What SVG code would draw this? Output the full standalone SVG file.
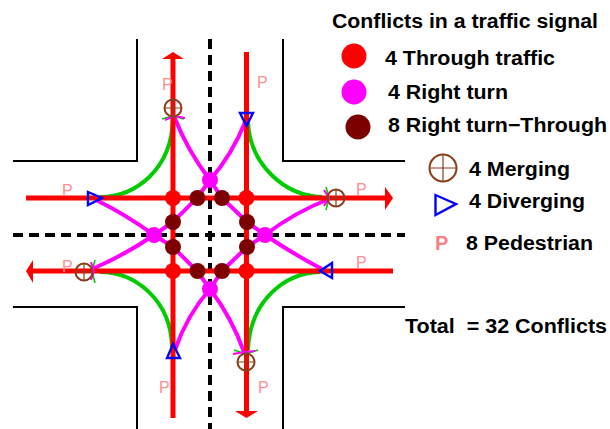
<svg xmlns="http://www.w3.org/2000/svg" width="610" height="429" viewBox="0 0 610 429">
<style>
.curb{fill:none;stroke:#000;stroke-width:2}
.lane{fill:none;stroke:#000;stroke-width:4;stroke-dasharray:10 6}
.road{fill:none;stroke:#f00;stroke-width:5}
.head{fill:#f00}
.turn{fill:none;stroke:#0c0;stroke-width:4}
.mag{fill:none;stroke:#f0f;stroke-width:4}
.tipg{fill:none;stroke:#0c0;stroke-width:1.6}
.tipm{fill:none;stroke:#f0f;stroke-width:2}
.red{fill:#f00}.pink{fill:#f0f}.dark{fill:#7d0000}
.merge{fill:none;stroke:#8b3e1a;stroke-width:2}
.cross{fill:none;stroke:#8b3e1a;stroke-width:1.2}
.div{fill:none;stroke:#00f;stroke-width:2.4}
.p{font-family:"Liberation Sans",Arial,sans-serif;font-size:16px;fill:#ff9090}
.lp{font-family:"Liberation Sans",Arial,sans-serif;font-size:20px;font-weight:bold;fill:#ff8080}
.t{font-family:"Liberation Sans",Arial,sans-serif;font-size:20px;font-weight:bold;fill:#000}
</style>
<g id="connectors">
<path class="curb" d="M137 39V161H13M283 39V161H405M13 307H137V429M405 307H283V429"/>
<path class="lane" d="M13 235H405M210 39V429"/>
<path class="turn" d="M173 118C172 170 135 197 100 197M248 122C250 165 285 196 322 197M100 272C135 272 171 300 172 347M320 272C285 273 250 300 248 350"/>
<path class="mag" d="M174 116Q187 150 210 180M246 120Q232 155 210 180M96 200Q125 214 154 235M92 269Q125 255 154 235M329 199Q295 212 265 235M322 269Q295 255 265 235M175 350Q187 315 210 289M244 352Q232 318 210 289"/>
<path class="mag" d="M210 180L197 198L173 222L154 235L173 247L197 271L210 289L222 271L247 247L265 235L247 222L222 198Z"/>
<path class="road" d="M173 57V418M246.5 52V412M26 198H386M32 271H393"/>
<polygon class="head" points="173,52 184,59 162,59"/>
<polygon class="head" points="393,198 385,187 385,210"/>
<polygon class="head" points="26,271 33,260 33,283"/>
<polygon class="head" points="246.5,418 235,411 258,411"/>
<path class="tipg" d="M162 119L173 116L184 119M326 187L329 198L326 210M95 260L92 271L95 283M234 350L246 354L258 350"/>
<path class="tipm" d="M165 120L174 116L185 118M324 190L329 198L324 206M91 262L94 271L91 280M233 354L245 352L255 351"/>
</g>
<g id="through-conflicts">
<circle class="red" cx="173" cy="198" r="8"/><circle class="red" cx="246.5" cy="198" r="8"/><circle class="red" cx="173" cy="271" r="8"/><circle class="red" cx="246.5" cy="271" r="8"/>
</g>
<g id="right-turn-conflicts">
<circle class="pink" cx="210" cy="180" r="8"/><circle class="pink" cx="154" cy="235" r="8"/><circle class="pink" cx="265" cy="235" r="8"/><circle class="pink" cx="210" cy="289" r="8"/>
</g>
<g id="right-through-conflicts">
<circle class="dark" cx="197.500" cy="198" r="8"/><circle class="dark" cx="222" cy="198" r="8"/><circle class="dark" cx="173" cy="222" r="8"/><circle class="dark" cx="173" cy="247" r="8"/><circle class="dark" cx="247" cy="222" r="8"/><circle class="dark" cx="247" cy="247" r="8"/><circle class="dark" cx="197.500" cy="271" r="8"/><circle class="dark" cx="222" cy="271" r="8"/>
</g>
<g id="merging">
<circle class="merge" cx="173" cy="108" r="8.500"/><path class="cross" d="M164.500 108H181.500M173 99.500V116.500"/>
<circle class="merge" cx="336" cy="198" r="8.500"/><path class="cross" d="M327.500 198H344.500M336 189.500V206.500"/>
<circle class="merge" cx="84" cy="272" r="8.500"/><path class="cross" d="M75.500 272H92.500M84 263.500V280.500"/>
<circle class="merge" cx="246" cy="362" r="8.500"/><path class="cross" d="M237.500 362H254.500M246 353.500V370.500"/>
</g>
<g id="diverging">
<polygon class="div" points="88,192 102,198 88,205"/>
<polygon class="div" points="240,113 253,113 246.500,126"/>
<polygon class="div" points="332,263 332,278 320,271"/>
<polygon class="div" points="173,344 180,358 167,358"/>
</g>
<g id="pedestrian">
<text class="p" x="62" y="196">P</text><text class="p" x="162" y="90">P</text><text class="p" x="257" y="88">P</text><text class="p" x="356" y="195">P</text>
<text class="p" x="62" y="272">P</text><text class="p" x="159" y="393">P</text><text class="p" x="258" y="393">P</text><text class="p" x="356" y="268">P</text>
</g>
<g id="legend">
<text class="t" x="332" y="28" textLength="266" lengthAdjust="spacingAndGlyphs">Conflicts in a traffic signal</text>
<circle class="red" cx="354" cy="56" r="12.500"/><text class="t" x="385" y="65" textLength="170" lengthAdjust="spacingAndGlyphs">4 Through traffic</text>
<circle class="pink" cx="354" cy="92" r="12.500"/><text class="t" x="388" y="99" textLength="120" lengthAdjust="spacingAndGlyphs">4 Right turn</text>
<circle class="dark" cx="358" cy="127" r="12.500"/><text class="t" x="388" y="132" textLength="219" lengthAdjust="spacingAndGlyphs">8 Right turn−Through</text>
<circle class="merge" cx="443" cy="168" r="13.500"/><path class="cross" d="M429.500 168H456.500M443 154.500V181.500"/><text class="t" x="469" y="176" textLength="101" lengthAdjust="spacingAndGlyphs">4 Merging</text>
<polygon class="div" points="435.500,195 456,204 435.500,215"/><text class="t" x="469" y="208" textLength="116" lengthAdjust="spacingAndGlyphs">4 Diverging</text>
<text class="lp" x="435" y="250">P</text><text class="t" x="466" y="250" textLength="127" lengthAdjust="spacingAndGlyphs">8 Pedestrian</text>
<text class="t" x="405" y="333" textLength="202" lengthAdjust="spacingAndGlyphs" xml:space="preserve">Total  = 32 Conflicts</text>
</g>
</svg>
